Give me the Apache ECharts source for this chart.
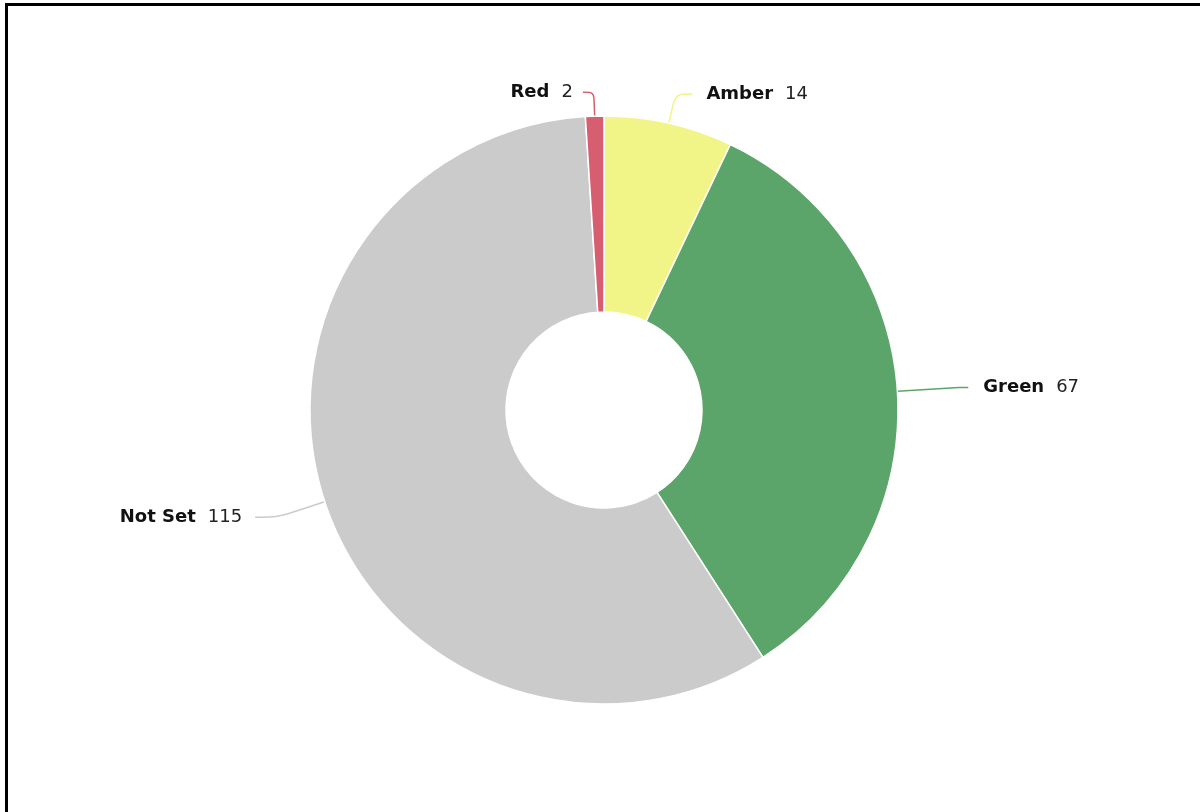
<!DOCTYPE html>
<html>
<head>
    <meta charset="utf-8">
    <title>RAG status</title>
    <style>
        html, body { margin: 0; padding: 0; background: #fff; overflow: hidden; }
        #frame { position: absolute; left: 5px; top: 3px; width: 1300px; height: 900px; border: 3px solid #000; }
        #chart { position: absolute; left: 0; top: 0; width: 1200px; height: 812px; }
    </style>
</head>
<body>
    <div id="frame"></div>
    <div id="chart"></div>
    <script src="https://cdn.jsdelivr.net/npm/echarts@6/dist/echarts.min.js"></script>
    <script>
        // data, clockwise from 12 o'clock
        var names = ['Amber', 'Green', 'Not Set', 'Red'];
        var values = [14, 67, 115, 2];
        var colors = ['#f1f587', '#5ca56a', '#cbcbcb', '#d75d70'];
        // label line: radial length, horizontal length, gap to text
        var lineLen = [[30, 17, 14], [62, 9, 15], [50, 22, 13], [24, 11, 10]];

        var pieData = names.map(function (n, i) {
            return {
                name: n,
                value: values[i],
                itemStyle: { color: colors[i] },
                label: { distanceToLabelLine: lineLen[i][2] },
                labelLine: { length: lineLen[i][0], length2: lineLen[i][1] }
            };
        });

        var myChart = echarts.init(document.getElementById('chart'));
        var option = {
            animation: false,
            series: [{
                type: 'pie',
                center: [604, 410],
                radius: [98, 294],
                startAngle: 90,
                clockwise: true,
                avoidLabelOverlap: false,
                data: pieData,
                itemStyle: { borderColor: '#fff', borderWidth: 1.5 },
                label: {
                    formatter: '{n|{b}}{v|{c}}',
                    rich: {
                        n: { fontFamily: 'DejaVu Sans', fontWeight: 'bold', fontSize: 18, color: '#111' },
                        v: { fontFamily: 'DejaVu Sans', fontSize: 18, color: '#222', padding: [0, 0, 0, 12] }
                    }
                },
                labelLine: { smooth: 0.3, lineStyle: { width: 1.5 } },
                emphasis: { disabled: true }
            }]
        };
        myChart.setOption(option);
    </script>
</body>
</html>
